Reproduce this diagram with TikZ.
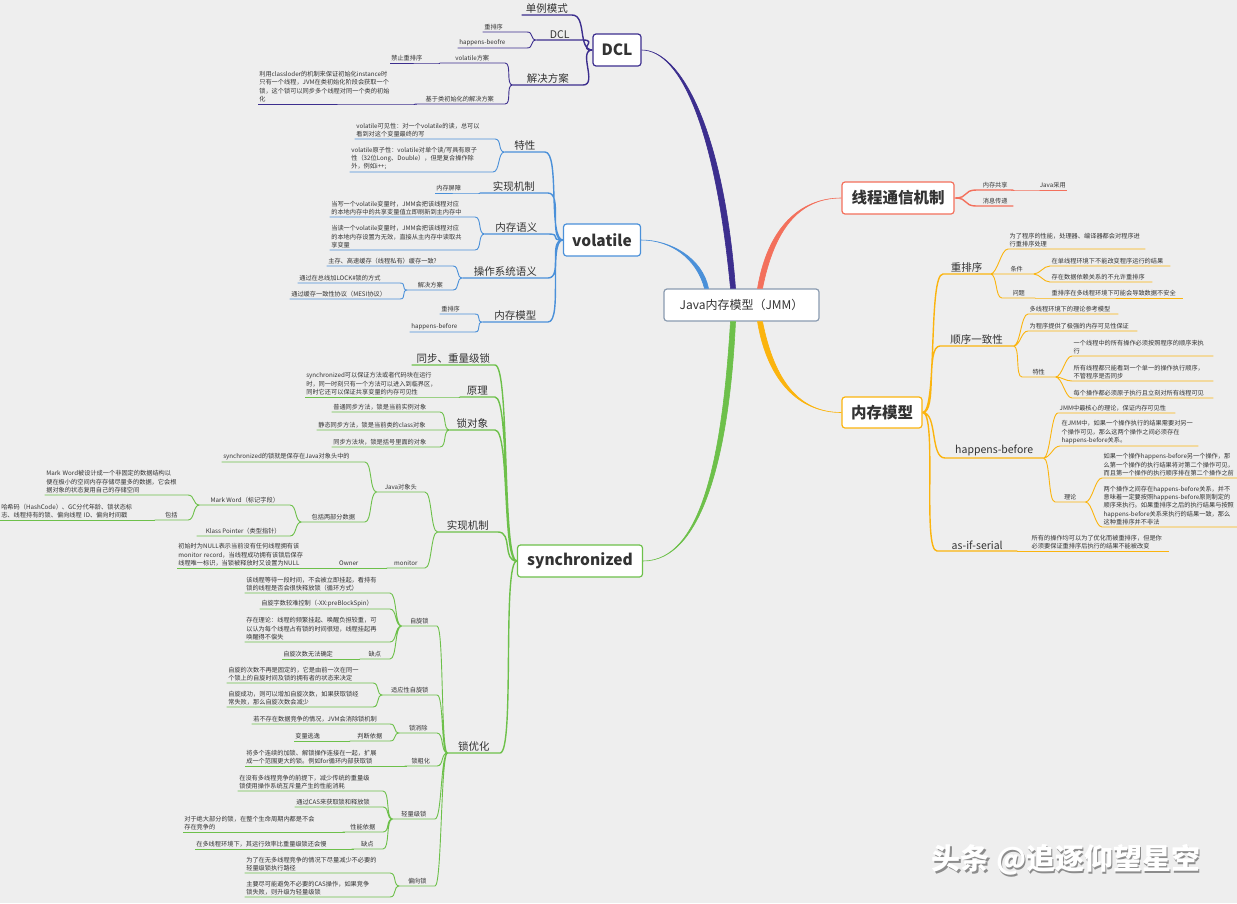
\documentclass[tikz,border=0pt]{standalone}
\usepackage{fontspec}
\setmainfont{Noto Sans CJK SC}
\definecolor{bg}{RGB}{238,238,238}
\definecolor{txt}{RGB}{51,51,51}
\definecolor{jmmc}{RGB}{138,155,176}
\definecolor{dclc}{RGB}{60,46,142}
\definecolor{volc}{RGB}{74,144,217}
\definecolor{sync}{RGB}{109,192,74}
\definecolor{thrc}{RGB}{243,112,92}
\definecolor{memc}{RGB}{251,180,14}

\begin{document}
\begin{tikzpicture}[
        x=1pt, y=-1pt, % координаты в пикселях
        box/.style = {draw, fill=white, rounded corners=3pt, line width=1.2pt, text=txt, font=\fontsize{15.5}{18}\selectfont\bfseries, minimum height=32pt, inner sep=0pt}, % Главные блоки
        mid/.style = {text=txt, font=\fontsize{10.5}{12}\selectfont, inner xsep=1.5pt, inner ysep=1.5pt}, % Второй уровень
        leaf/.style = {text=txt, font=\fontsize{6.2}{8.3}\selectfont, inner xsep=1.5pt, inner ysep=1.8pt, align=left}, % Листья
        lt/.style = {anchor=south east},
        rt/.style = {anchor=south west},
        trunk/.style = {line width=1.4pt},
        lk/.style = {to path={.. controls +(-7,0) and +(7,0) .. (\tikztotarget.south east) -- (\tikztotarget.south west)}},
        rk/.style = {to path={.. controls +(7,0) and +(-7,0) .. (\tikztotarget.south west) -- (\tikztotarget.south east)}},
        lkb/.style = {to path={.. controls +(-15,0) and +(15,0) .. (\tikztotarget.south east) -- (\tikztotarget.south west)}},
        rkb/.style = {to path={.. controls +(15,0) and +(-15,0) .. (\tikztotarget.south west) -- (\tikztotarget.south east)}},
    ]

    \path[use as bounding box, fill=bg] (0,0) rectangle (1237,903);

    \node[box, draw=jmmc, font=\fontsize{12}{14}\selectfont, minimum width=155pt] (jmm) at (741.5,305) {Java内存模型（JMM）};
    \node[box, draw=dclc, minimum width=48pt] (dclb) at (617,50) {DCL};
    \node[box, draw=volc, minimum width=77pt] (volb) at (602,240) {volatile};
    \node[box, draw=sync, minimum width=125pt] (synb) at (580,561) {synchronized};
    \node[box, draw=thrc, minimum width=112pt] (thrb) at (898,198) {线程通信机制};
    \node[box, draw=memc, minimum width=80pt, minimum height=31pt] (memb) at (882,412.5) {内存模型};

    % DCL
    \node[mid, lt, minimum width=50pt] (dls) at (572,15) {单例模式};
    \node[mid, lt, minimum width=46pt] (dcc) at (583,40) {DCL};
    \node[mid, lt, minimum width=70pt] (dfa) at (583,85) {解决方案};
    \node[leaf, lt, text width=41pt] (dcc1) at (527,32) {重排序};
    \node[leaf, lt, text width=66pt] (dcc2) at (527,48) {happens-beofre};
    \node[leaf, lt, minimum width=65pt] (dfa1) at (505,63) {volatile方案};
    \node[leaf, lt, text width=44pt] (dfa1a) at (437,63) {禁止重排序};
    \node[leaf, lt, minimum width=90pt] (dfa2) at (505,104) {基于类初始化的解决方案};
    \node[leaf, lt, text width=154pt] (dfa2a) at (415,104) {利用classloder的机制来保证初始化instance时\\只有一个线程，JVM在类初始化阶段会获取一个\\锁，这个锁可以同步多个线程对同一个类的初始\\化};

    % volatile
    \node[mid, lt, minimum width=40pt] (vtx) at (545,152) {特性};
    \node[mid, lt, minimum width=68pt] (vsx) at (548,193) {实现机制};
    \node[mid, lt, minimum width=63pt] (vny) at (548,234) {内存语义};
    \node[mid, lt, minimum width=85pt] (vcz) at (548,278) {操作系统语义};
    \node[mid, lt, minimum width=65pt] (vmx) at (548,322) {内存模型};
    \node[leaf, lt, text width=137pt] (vtx1) at (495,139) {volatile可见性：对一个volatile的读，总可以\\看到对这个变量最终的写};
    \node[leaf, lt, text width=140pt] (vtx2) at (493,172) {volatile原子性：volatile对单个读/写具有原子\\性（32位Long、Double），但是复合操作除\\外，例如i++;};
    \node[leaf, lt, text width=32pt] (vsx1) at (470,193) {内存屏障};
    \node[leaf, lt, text width=142pt] (vny1) at (475,217) {当写一个volatile变量时，JMM会把该线程对应\\的本地内存中的共享变量值立即刷新到主内存中};
    \node[leaf, lt, text width=142pt] (vny2) at (475,250) {当读一个volatile变量时，JMM会把该线程对应\\的本地内存设置为无效，直接从主内存中读取共\\享变量};
    \node[leaf, lt, text width=123pt] (vcz1) at (453,266) {主存、高速缓存（线程私有）缓存一致?};
    \node[leaf, lt, minimum width=45pt] (vcz2) at (453,290) {解决方案};
    \node[leaf, lt, text width=99pt] (vcz2a) at (400,283) {通过在总线加LOCK\#锁的方式};
    \node[leaf, lt, text width=107pt] (vcz2b) at (400,299) {通过缓存一致性协议（MESI协议）};
    \node[leaf, lt, text width=32pt] (vmx1) at (475,314) {重排序};
    \node[leaf, lt, text width=62pt] (vmx2) at (475,332) {happens-before};

    % synchronized
    \node[mid, lt, minimum width=83pt] (sjz) at (495,365) {同步、重量级锁};
    \node[mid, lt, minimum width=35pt] (syl) at (495,397) {原理};
    \node[mid, lt, minimum width=45pt] (sdx) at (495,430) {锁对象};
    \node[mid, lt, minimum width=60pt] (ssx) at (498,532) {实现机制};
    \node[mid, lt, minimum width=52pt] (syh) at (500,753) {锁优化};
    \node[leaf, lt, text width=150pt] (syl1) at (458,397) {synchronized可以保证方法或者代码块在运行\\时，同一时刻只有一个方法可以进入到临界区，\\同时它还可以保证共享变量的内存可见性};
    \node[leaf, lt, text width=105pt] (sdx1) at (440,412) {普通同步方法，锁是当前实例对象};
    \node[leaf, lt, text width=120pt] (sdx2) at (440,430) {静态同步方法，锁是当前类的class对象};
    \node[leaf, lt, text width=105pt] (sdx3) at (440,447) {同步方法块，锁是括号里面的对象};
    \node[leaf, lt, minimum width=48pt] (sdt) at (425,492) {Java对象头};
    \node[leaf, lt, text width=140pt] (sdt1) at (365,462) {synchronized的锁就是保存在Java对象头中的};
    \node[leaf, lt, minimum width=63pt] (sdt2) at (365,522) {包括两部分数据};
    \node[leaf, lt, minimum width=90pt] (smw) at (290,505) {Mark Word（标记字段）};
    \node[leaf, lt, minimum width=93pt] (skp) at (290,536) {Klass Pointer（类型指针）};
    \node[leaf, lt, text width=140pt] (smw1) at (188,495) {Mark Word被设计成一个非固定的数据结构以\\便在极小的空间内存存储尽量多的数据，它会根\\据对象的状态复用自己的存储空间};
    \node[leaf, lt, minimum width=33pt] (smw2) at (188,520) {包括};
    \node[leaf, lt, text width=147pt] (smw2a) at (150,520) {哈希码（HashCode）、GC分代年龄、锁状态标\\志、线程持有的锁、偏向线程 ID、偏向时间戳};
    \node[leaf, lt, minimum width=38pt] (smo) at (425,568) {monitor};
    \node[leaf, lt, minimum width=72pt] (sow) at (385,568) {Owner};
    \node[leaf, lt, text width=133pt] (sow1) at (313,568) {初始时为NULL表示当前没有任何线程拥有该\\monitor record，当线程成功拥有该锁后保存\\线程唯一标识，当锁被释放时又设置为NULL};
    \node[leaf, lt, minimum width=35pt] (szx) at (437,626) {自旋锁};
    \node[leaf, lt, minimum width=54pt] (szs) at (437,695) {适应性自旋锁};
    \node[leaf, lt, minimum width=37pt] (sxc) at (437,733) {锁消除};
    \node[leaf, lt, minimum width=32pt] (scf) at (437,766) {锁粗化};
    \node[leaf, lt, minimum width=42pt] (sqj) at (435,819) {轻量级锁};
    \node[leaf, lt, minimum width=35pt] (spx) at (435,886) {偏向锁};
    \node[leaf, lt, text width=142pt] (szx1) at (390,593) {该线程等待一段时间，不会被立即挂起，看持有\\锁的线程是否会很快释放锁（循环方式）};
    \node[leaf, lt, text width=127pt] (szx2) at (390,609) {自旋字数较难控制（-XX:preBlockSpin）};
    \node[leaf, lt, text width=142pt] (szx3) at (390,642) {存在理论：线程的频繁挂起、唤醒负担较重，可\\以认为每个线程占有锁的时间很短，线程挂起再\\唤醒得不偿失};
    \node[leaf, lt, minimum width=30pt] (szx4) at (390,659) {缺点};
    \node[leaf, lt, text width=70pt] (szx4a) at (355,659) {自旋次数无法确定};
    \node[leaf, lt, text width=143pt] (szs1) at (373,683) {自旋的次数不再是固定的，它是由前一次在同一\\个锁上的自旋时间及锁的拥有者的状态来决定};
    \node[leaf, lt, text width=143pt] (szs2) at (373,707) {自旋成功，则可以增加自旋次数，如果获取锁经\\常失败，那么自旋次数会减少};
    \node[leaf, lt, text width=135pt] (sxc1) at (390,724) {若不存在数据竞争的情况，JVM会消除锁机制};
    \node[leaf, lt, minimum width=40pt] (sxc2) at (390,741) {判断依据};
    \node[leaf, lt, text width=51pt] (sxc2a) at (348,741) {变量逃逸};
    \node[leaf, lt, text width=157pt] (scf1) at (405,766) {将多个连续的加锁、解锁操作连接在一起，扩展\\成一个范围更大的锁。例如for循环内部获取锁};
    \node[leaf, lt, text width=142pt] (sqj1) at (383,791) {在没有多线程竞争的前提下，减少传统的重量级\\锁使用操作系统互斥量产生的性能消耗};
    \node[leaf, lt, text width=85pt] (sqj2) at (383,807) {通过CAS来获取锁和释放锁};
    \node[leaf, lt, minimum width=40pt] (sqj3) at (383,832) {性能依据};
    \node[leaf, lt, minimum width=31pt] (sqj4) at (383,849) {缺点};
    \node[leaf, lt, text width=157pt] (sqj3a) at (343,832) {对于绝大部分的锁，在整个生命周期内都是不会\\存在竞争的};
    \node[leaf, lt, text width=154pt] (sqj4a) at (352,849) {在多线程环境下，其运行效率比重量级锁还会慢};
    \node[leaf, lt, text width=142pt] (spx1) at (390,873) {为了在无多线程竞争的情况下尽量减少不必要的\\轻量级锁执行路径};
    \node[leaf, lt, text width=142pt] (spx2) at (390,897) {主要尽可能避免不必要的CAS操作，如果竞争\\锁失败，则升级为轻量级锁};

    % 线程通信机制
    \node[leaf, rt, minimum width=36pt] (tgx) at (977,190) {内存共享};
    \node[leaf, rt, text width=51pt, align=right] (tgx1) at (1013,190) {Java采用};
    \node[leaf, rt, minimum width=36pt] (txx) at (977,206) {消息传递};

    % 内存模型
    \node[mid, rt, minimum width=47pt] (mcp) at (943,274) {重排序};
    \node[mid, rt, minimum width=73pt] (msx) at (940,346) {顺序一致性};
    \node[mid, rt, minimum width=98pt] (mhb) at (945,458) {happens-before};
    \node[mid, rt, minimum width=80pt] (mas) at (937,551) {as-if-serial};
    \node[leaf, rt, text width=134pt] (mcp1) at (1008,249) {为了程序的性能，处理器、编译器都会对程序进\\行重排序处理};
    \node[leaf, rt, minimum width=33pt] (mcp2) at (1000,274) {条件};
    \node[leaf, rt, minimum width=33pt] (mcp3) at (1002,298) {问题};
    \node[leaf, rt, text width=117pt] (mcp2a) at (1050,266) {在单线程环境下不能改变程序运行的结果};
    \node[leaf, rt, text width=99pt] (mcp2b) at (1050,282) {存在数据依赖关系的不允许重排序};
    \node[leaf, rt, text width=130pt] (mcp3a) at (1050,298) {重排序在多线程环境下可能会导致数据不安全};
    \node[leaf, rt, text width=87pt] (msx1) at (1028,314) {多线程环境下的理论参考模型};
    \node[leaf, rt, text width=106pt] (msx2) at (1028,331) {为程序提供了极强的内存可见性保证};
    \node[leaf, rt, minimum width=33pt] (msx3) at (1022,377) {特性};
    \node[leaf, rt, text width=138pt] (msx3a) at (1072,356) {一个线程中的所有操作必须按照程序的顺序来执\\行};
    \node[leaf, rt, text width=138pt] (msx3b) at (1072,381) {所有线程都只能看到一个单一的操作执行顺序，\\不管程序是否同步};
    \node[leaf, rt, text width=138pt] (msx3c) at (1072,398) {每个操作都必须原子执行且立刻对所有线程可见};
    \node[leaf, rt, text width=114pt] (mhb1) at (1058,413) {JMM中最核心的理论，保证内存可见性};
    \node[leaf, rt, text width=135pt] (mhb2) at (1060,446) {在JMM中，如果一个操作执行的结果需要对另一\\个操作可见，那么这两个操作之间必须存在\\happens-before关系。};
    \node[leaf, rt, minimum width=30pt] (mhb3) at (1055,502) {理论};
    \node[leaf, rt, text width=145pt] (mhb3a) at (1102,478) {如果一个操作happens-before另一个操作，那\\么第一个操作的执行结果将对第二个操作可见，\\而且第一个操作的执行顺序排在第二个操作之前};
    \node[leaf, rt, text width=145pt] (mhb3b) at (1102,527) {两个操作之间存在happens-before关系，并不\\意味着一定要按照happens-before原则制定的\\顺序来执行。如果重排序之后的执行结果与按照\\happens-before关系来执行的结果一致，那么\\这种重排序并不非法};
    \node[leaf, rt, text width=136pt] (mas1) at (1030,551) {所有的操作均可以为了优化而被重排序，但是你\\必须要保证重排序后执行的结果不能被改变};

    % ветви от центра
    \filldraw[fill=dclc, draw=dclc, line width=.6pt] ([xshift=-11pt]jmm.north) .. controls +(-15,-159) and +(39,0) .. (dclb.east) .. controls +(39,0) and +(-12,-159) .. ([xshift=-6pt]jmm.north) -- cycle;
    \filldraw[fill=volc, draw=volc, line width=.6pt] ([xshift=-37pt]jmm.north) .. controls +(-8,-30) and +(30,0) .. (volb.east) .. controls +(30,0) and +(-6,-30) .. ([xshift=-33pt]jmm.north) -- cycle;
    \filldraw[fill=sync, draw=sync, line width=.6pt] ([xshift=-11pt]jmm.south) .. controls +(-8,130) and +(60,0) .. (synb.east) .. controls +(60,0) and +(-6,130) .. ([xshift=-6pt]jmm.south) -- cycle;
    \filldraw[fill=thrc, draw=thrc, line width=.6pt] ([xshift=16pt]jmm.north) .. controls +(10,-60) and +(-42,0) .. (thrb.west) .. controls +(-42,0) and +(12,-60) .. ([xshift=21pt]jmm.north) -- cycle;
    \filldraw[fill=memc, draw=memc, line width=.6pt] ([xshift=16pt]jmm.south) .. controls +(10,60) and +(-42,0) .. (memb.west) .. controls +(-42,0) and +(12,60) .. ([xshift=21pt]jmm.south) -- cycle;

    \begin{scope}[draw=dclc, line width=.9pt]
        \draw[trunk] (dclb.west) to[lkb] (dls) (dclb.west) to[lkb] (dcc) (dclb.west) to[lkb] (dfa);
        \draw (dcc.south west) to[lk] (dcc1) (dcc.south west) to[lk] (dcc2);
        \draw (dfa.south west) to[lk] (dfa1) (dfa.south west) to[lk] (dfa2);
        \draw (dfa1.south west) to[lk] (dfa1a);
        \draw (dfa2.south west) to[lk] (dfa2a);
    \end{scope}

    \begin{scope}[draw=volc, line width=.9pt]
        \draw[trunk] (volb.west) to[lkb] (vtx) (volb.west) to[lkb] (vsx) (volb.west) to[lkb] (vny) (volb.west) to[lkb] (vcz) (volb.west) to[lkb] (vmx);
        \draw (vtx.south west) to[lk] (vtx1) (vtx.south west) to[lk] (vtx2);
        \draw (vsx.south west) to[lk] (vsx1);
        \draw (vny.south west) to[lk] (vny1) (vny.south west) to[lk] (vny2);
        \draw (vcz.south west) to[lk] (vcz1) (vcz.south west) to[lk] (vcz2);
        \draw (vcz2.south west) to[lk] (vcz2a) (vcz2.south west) to[lk] (vcz2b);
        \draw (vmx.south west) to[lk] (vmx1) (vmx.south west) to[lk] (vmx2);
    \end{scope}

    \begin{scope}[draw=sync, line width=.9pt]
        \draw[trunk] (synb.west) to[lkb] (sjz) (synb.west) to[lkb] (syl) (synb.west) to[lkb] (sdx) (synb.west) to[lkb] (ssx) (synb.west) to[lkb] (syh);
        \draw (syl.south west) to[lk] (syl1);
        \draw (sdx.south west) to[lk] (sdx1) (sdx.south west) to[lk] (sdx2) (sdx.south west) to[lk] (sdx3);
        \draw (ssx.south west) to[lk] (sdt) (ssx.south west) to[lk] (smo);
        \draw (sdt.south west) to[lk] (sdt1) (sdt.south west) to[lk] (sdt2);
        \draw (sdt2.south west) to[lk] (smw) (sdt2.south west) to[lk] (skp);
        \draw (smw.south west) to[lk] (smw1) (smw.south west) to[lk] (smw2);
        \draw (smw2.south west) to[lk] (smw2a);
        \draw (smo.south west) to[lk] (sow);
        \draw (sow.south west) to[lk] (sow1);
        \draw (syh.south west) to[lk] (szx) (syh.south west) to[lk] (szs) (syh.south west) to[lk] (sxc) (syh.south west) to[lk] (scf) (syh.south west) to[lk] (sqj) (syh.south west) to[lk] (spx);
        \draw (szx.south west) to[lk] (szx1) (szx.south west) to[lk] (szx2) (szx.south west) to[lk] (szx3) (szx.south west) to[lk] (szx4);
        \draw (szx4.south west) to[lk] (szx4a);
        \draw (szs.south west) to[lk] (szs1) (szs.south west) to[lk] (szs2);
        \draw (sxc.south west) to[lk] (sxc1) (sxc.south west) to[lk] (sxc2);
        \draw (sxc2.south west) to[lk] (sxc2a);
        \draw (scf.south west) to[lk] (scf1);
        \draw (sqj.south west) to[lk] (sqj1) (sqj.south west) to[lk] (sqj2) (sqj.south west) to[lk] (sqj3) (sqj.south west) to[lk] (sqj4);
        \draw (sqj3.south west) to[lk] (sqj3a);
        \draw (sqj4.south west) to[lk] (sqj4a);
        \draw (spx.south west) to[lk] (spx1) (spx.south west) to[lk] (spx2);
    \end{scope}

    \begin{scope}[draw=thrc, line width=.9pt]
        \draw[trunk] (thrb.east) to[rkb] (tgx) (thrb.east) to[rkb] (txx);
        \draw (tgx.south east) to[rk] (tgx1);
    \end{scope}

    \begin{scope}[draw=memc, line width=.9pt]
        \draw[trunk] (memb.east) to[rkb] (mcp) (memb.east) to[rkb] (msx) (memb.east) to[rkb] (mhb) (memb.east) to[rkb] (mas);
        \draw (mcp.south east) to[rk] (mcp1) (mcp.south east) to[rk] (mcp2) (mcp.south east) to[rk] (mcp3);
        \draw (mcp2.south east) to[rk] (mcp2a) (mcp2.south east) to[rk] (mcp2b);
        \draw (mcp3.south east) to[rk] (mcp3a);
        \draw (msx.south east) to[rk] (msx1) (msx.south east) to[rk] (msx2) (msx.south east) to[rk] (msx3);
        \draw (msx3.south east) to[rk] (msx3a) (msx3.south east) to[rk] (msx3b) (msx3.south east) to[rk] (msx3c);
        \draw (mhb.south east) to[rk] (mhb1) (mhb.south east) to[rk] (mhb2) (mhb.south east) to[rk] (mhb3);
        \draw (mhb3.south east) to[rk] (mhb3a) (mhb3.south east) to[rk] (mhb3b);
        \draw (mas.south east) to[rk] (mas1);
    \end{scope}

    % водяной знак
    \node[font=\fontsize{29}{32}\selectfont\bfseries, text=black!45] (wms) at (1067.5,861.5) {头条 @追逐仰望星空};
    \node[font=\fontsize{29}{32}\selectfont\bfseries, text=white] (wm) at (1066,860) {头条 @追逐仰望星空};
\end{tikzpicture}
\end{document}
